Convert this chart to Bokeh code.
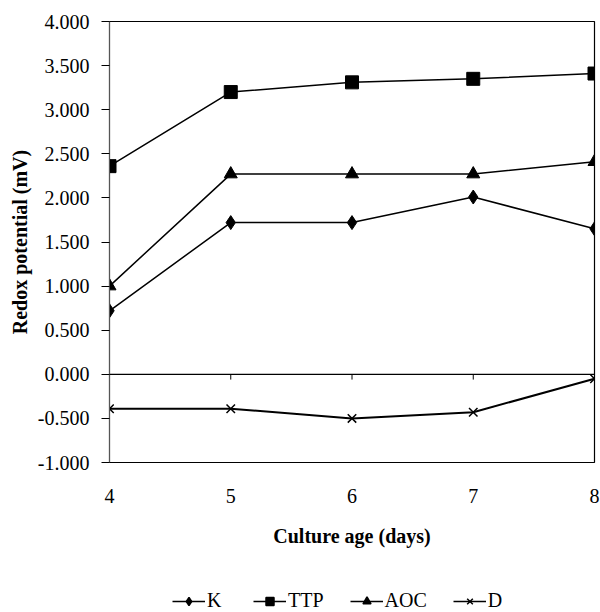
from bokeh.plotting import figure
from bokeh.layouts import column
from bokeh.models import (FixedTicker, NumeralTickFormatter, Span, Legend, LegendItem)
from bokeh.embed import file_html
from bokeh.resources import INLINE

days = [4, 5, 6, 7, 8]
K = [0.72, 1.72, 1.72, 2.01, 1.65]
TTP = [2.36, 3.20, 3.31, 3.35, 3.41]
AOC = [1.00, 2.27, 2.27, 2.27, 2.41]
D = [-0.39, -0.39, -0.50, -0.43, -0.05]
y_ticks = [-1.0, -0.5, 0.0, 0.5, 1.0, 1.5, 2.0, 2.5, 3.0, 3.5, 4.0]
series_names = ["K", "TTP", "AOC", "D"]

FONT = "Liberation Serif"

p = figure(width=600, height=574, output_backend="svg", toolbar_location=None,
           x_range=(4, 8), y_range=(-1, 4),
           min_border_left=109, min_border_top=21, min_border_right=6, min_border_bottom=112)
p.grid.visible = False
p.outline_line_color = "#000000"
p.outline_line_width = 1.2
p.background_fill_color = "white"
p.border_fill_color = "white"

# y axis
p.yaxis.ticker = FixedTicker(ticks=y_ticks)
p.yaxis.formatter = NumeralTickFormatter(format="0.000")
p.yaxis.major_label_text_font = FONT
p.yaxis.major_label_text_font_size = "20px"
p.yaxis.major_label_text_color = "#000000"
p.yaxis.minor_tick_line_color = None
p.yaxis.major_tick_out = 8
p.yaxis.major_tick_in = 0
p.yaxis.major_label_standoff = 12
p.yaxis.axis_line_color = "#555555"
p.yaxis.axis_label = "Redox potential (mV)"
p.yaxis.axis_label_text_font = FONT
p.yaxis.axis_label_text_font_style = "bold"
p.yaxis.axis_label_text_font_size = "20px"
p.yaxis.axis_label_text_color = "#000000"
p.yaxis.axis_label_standoff = 4

# x axis (labels at bottom, ticks drawn on the zero line)
p.xaxis.ticker = FixedTicker(ticks=days)
p.xaxis.major_label_text_font = FONT
p.xaxis.major_label_text_font_size = "20px"
p.xaxis.major_label_text_color = "#000000"
p.xaxis.major_tick_line_color = None
p.xaxis.minor_tick_line_color = None
p.xaxis.axis_line_color = None
p.xaxis.major_label_standoff = 20
p.xaxis.axis_label = "Culture age (days)"
p.xaxis.axis_label_text_font = FONT
p.xaxis.axis_label_text_font_style = "bold"
p.xaxis.axis_label_text_font_size = "20px"
p.xaxis.axis_label_text_color = "#000000"
p.xaxis.axis_label_standoff = 19

p.add_layout(Span(location=0, dimension="width", line_color="#000000", line_width=1.2))
p.segment(x0=days, y0=[0]*len(days), x1=days, y1=[-0.06]*len(days), line_color="#000000", line_width=1)

lw = 1.5
p.line(days, K, line_color="black", line_width=lw)
p.scatter(days, K, marker="diamond", size=14, color="black")
p.line(days, TTP, line_color="black", line_width=lw)
p.scatter(days, TTP, marker="square", size=13, color="black")
p.line(days, AOC, line_color="black", line_width=lw)
p.scatter(days, AOC, marker="triangle", size=13, color="black")
p.line(days, D, line_color="black", line_width=2)
p.scatter(days, D, marker="x", size=12, line_color="black", line_width=1.5)

# legend strip below the chart (its frame is aligned with the chart's frame)
lg = figure(width=600, height=38, output_backend="svg", toolbar_location=None,
            x_range=(0, 1), y_range=(0, 1), min_border=0)
lg.axis.visible = False
lg.grid.visible = False
lg.outline_line_color = None
lg.border_fill_color = "white"
lg.background_fill_color = "white"

nan = float("nan")
markers = [("diamond", 11), ("square", 9), ("triangle", 10), ("x", 9)]
items = []
for name, (mk, sz) in zip(series_names, markers):
    r1 = lg.line([nan], [nan], line_color="black", line_width=1.5)
    r2 = lg.scatter([nan], [nan], marker=mk, size=sz, color="black", line_width=1.5)
    items.append(LegendItem(label=name, renderers=[r1, r2]))

legend = Legend(items=items, orientation="horizontal", location=(63, 0),
                label_text_font=FONT, label_text_font_size="20px", label_text_color="#000000",
                border_line_color=None, background_fill_alpha=0,
                glyph_width=33, spacing=26, label_standoff=2, margin=0, padding=0)
lg.add_layout(legend, "center")

layout = column(p, lg, spacing=0)
open("out.html", "w").write(file_html(layout, INLINE))
